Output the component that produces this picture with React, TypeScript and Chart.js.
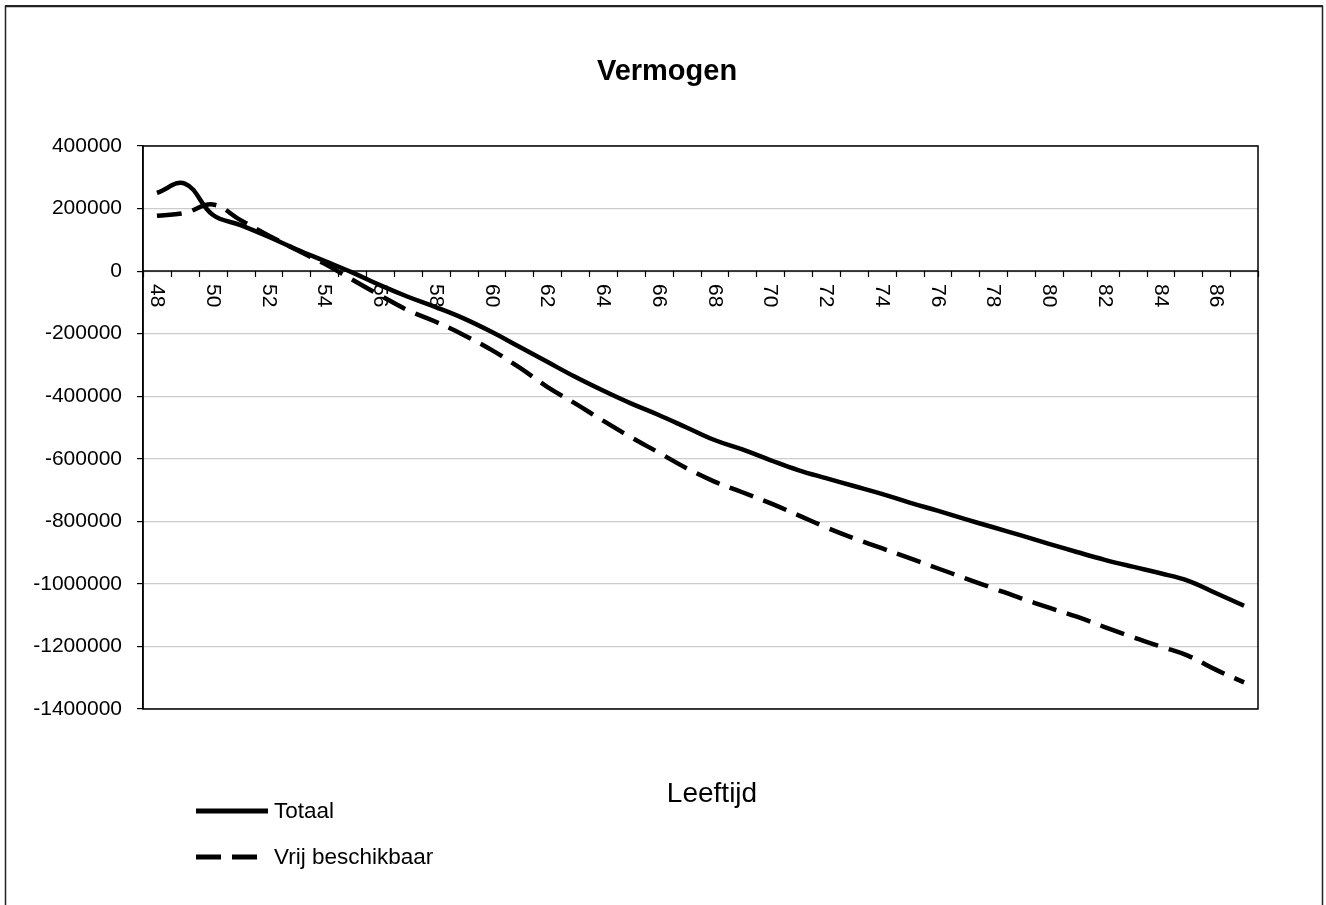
import { useEffect, useRef } from "react";
import { Chart, registerables } from "chart.js";

Chart.register(...registerables);

const chartTitle = "Vermogen";
const xAxisTitle = "Leeftijd";

const ages = [
  48, 49, 50, 51, 52, 53, 54, 55, 56, 57, 58, 59, 60, 61, 62, 63, 64, 65, 66, 67,
  68, 69, 70, 71, 72, 73, 74, 75, 76, 77, 78, 79, 80, 81, 82, 83, 84, 85, 86, 87,
];

const totaal = [
  250000, 280000, 180000, 147000, 110000, 70000, 33000, -4000, -45000, -82000,
  -115000, -151000, -194000, -242000, -290000, -338000, -382000, -423000, -460000, -500000,
  -540000, -570000, -604000, -636000, -662000, -687000, -712000, -740000, -766000, -793000,
  -819000, -845000, -872000, -898000, -923000, -945000, -966000, -990000, -1030000, -1070000,
];

const vrijBeschikbaar = [
  177000, 186000, 213000, 163000, 114000, 68000, 24000, -27000, -77000, -125000,
  -162000, -204000, -252000, -308000, -370000, -423000, -478000, -531000, -580000, -630000,
  -673000, -707000, -742000, -780000, -819000, -854000, -886000, -918000, -950000, -982000,
  -1014000, -1046000, -1076000, -1105000, -1138000, -1170000, -1200000, -1230000, -1275000, -1315000,
];

const seriesNames = ["Totaal", "Vrij beschikbaar"];

const yMin = -1400000;
const yMax = 400000;
const yStep = 200000;

const FONT = '"Liberation Sans", Arial, sans-serif';

const decorPlugin = {
  id: "decor",
  beforeDraw(chart: any) {
    const ctx = chart.ctx;
    ctx.save();
    ctx.fillStyle = "#ffffff";
    ctx.fillRect(0, 0, chart.width, chart.height);
    ctx.strokeStyle = "#222222";
    ctx.lineWidth = 1.5;
    ctx.beginPath();
    ctx.moveTo(5.5, chart.height + 10);
    ctx.lineTo(5.5, 6.5);
    ctx.lineTo(1322.5, 6.5);
    ctx.lineTo(1322.5, chart.height + 10);
    ctx.stroke();
    ctx.lineWidth = 2;
    ctx.beginPath();
    ctx.moveTo(5, 6);
    ctx.lineTo(1323, 6);
    ctx.stroke();
    ctx.restore();
  },
  beforeDatasetsDraw(chart: any) {
    const ctx = chart.ctx;
    const area = chart.chartArea;
    const xS = chart.scales.x;
    const yS = chart.scales.y;
    ctx.save();
    ctx.strokeStyle = "#000000";
    ctx.lineWidth = 1.5;
    ctx.strokeRect(area.left, area.top, area.right - area.left, area.bottom - area.top);
    const y0 = yS.getPixelForValue(0);
    ctx.beginPath();
    ctx.moveTo(area.left, y0);
    ctx.lineTo(area.right, y0);
    ctx.stroke();
    const n = ages.length;
    const w = xS.getPixelForValue(1) - xS.getPixelForValue(0);
    const start = xS.getPixelForValue(0) - w / 2;
    ctx.lineWidth = 1.2;
    ctx.beginPath();
    for (let k = 0; k <= n; k++) {
      const bx = Math.round(start + k * w) + 0.5;
      ctx.moveTo(bx, y0);
      ctx.lineTo(bx, y0 + 6);
    }
    ctx.stroke();
    ctx.fillStyle = "#000000";
    ctx.font = `21px ${FONT}`;
    ctx.textAlign = "left";
    ctx.textBaseline = "middle";
    for (let i = 0; i < n; i += 2) {
      const x = xS.getPixelForValue(i);
      ctx.save();
      ctx.translate(x, y0 + 13);
      ctx.rotate(Math.PI / 2);
      ctx.fillText(String(ages[i]), 0, 0);
      ctx.restore();
    }
    ctx.restore();
  },
  afterDraw(chart: any) {
    const ctx = chart.ctx;
    ctx.save();
    ctx.fillStyle = "#000000";
    ctx.font = `bold 29px ${FONT}`;
    ctx.textAlign = "center";
    ctx.textBaseline = "alphabetic";
    ctx.fillText(chartTitle, 667, 80);
    ctx.font = `28px ${FONT}`;
    ctx.fillText(xAxisTitle, 712, 802);
    const ds = chart.data.datasets;
    ds.forEach((d: any, i: number) => {
      const ly = 811 + i * 46;
      ctx.strokeStyle = d.borderColor;
      ctx.lineWidth = 5;
      ctx.setLineDash(d.borderDash || []);
      ctx.beginPath();
      ctx.moveTo(196, ly);
      ctx.lineTo(268, ly);
      ctx.stroke();
      ctx.setLineDash([]);
      ctx.font = `22.5px ${FONT}`;
      ctx.textAlign = "left";
      ctx.textBaseline = "middle";
      ctx.fillText(d.label, 274, ly + 1);
    });
    ctx.restore();
  },
};

export default function App() {
  const ref = useRef<HTMLCanvasElement | null>(null);

  useEffect(() => {
    if (!ref.current) return;
    const chart = new Chart(ref.current, {
      type: "line",
      data: {
        labels: ages.map(String),
        datasets: [
          {
            label: seriesNames[0],
            data: totaal,
            borderColor: "#000000",
            borderWidth: 4.5,
            pointRadius: 0,
            tension: 0.4,
            fill: false,
          },
          {
            label: seriesNames[1],
            data: vrijBeschikbaar,
            borderColor: "#000000",
            borderWidth: 4.5,
            borderDash: [25, 11],
            pointRadius: 0,
            tension: 0.4,
            fill: false,
          },
        ],
      },
      options: {
        animation: false,
        responsive: false,
        devicePixelRatio: 1,
        layout: { padding: { left: 0, right: 68, top: 146, bottom: 196 } },
        plugins: {
          legend: { display: false },
          title: { display: false },
          tooltip: { enabled: false },
        },
        scales: {
          x: {
            type: "category",
            display: false,
            offset: true,
          },
          y: {
            min: yMin,
            max: yMax,
            ticks: {
              stepSize: yStep,
              padding: 15,
              color: "#000000",
              font: { family: FONT, size: 21 },
              callback: (v: any) => String(v),
            },
            grid: {
              color: "#cccccc",
              lineWidth: 1.2,
              tickColor: "#000000",
              tickLength: 6,
            },
            border: { color: "#000000", width: 1.5 },
            afterFit: (s: any) => {
              s.width = 143;
            },
          },
        },
      },
      plugins: [decorPlugin],
    });
    return () => chart.destroy();
  }, []);

  return (
    <div style={{ position: "absolute", left: 0, top: 0, width: 1326, height: 905 }}>
      <canvas ref={ref} width={1326} height={905} style={{ display: "block" }} />
    </div>
  );
}
